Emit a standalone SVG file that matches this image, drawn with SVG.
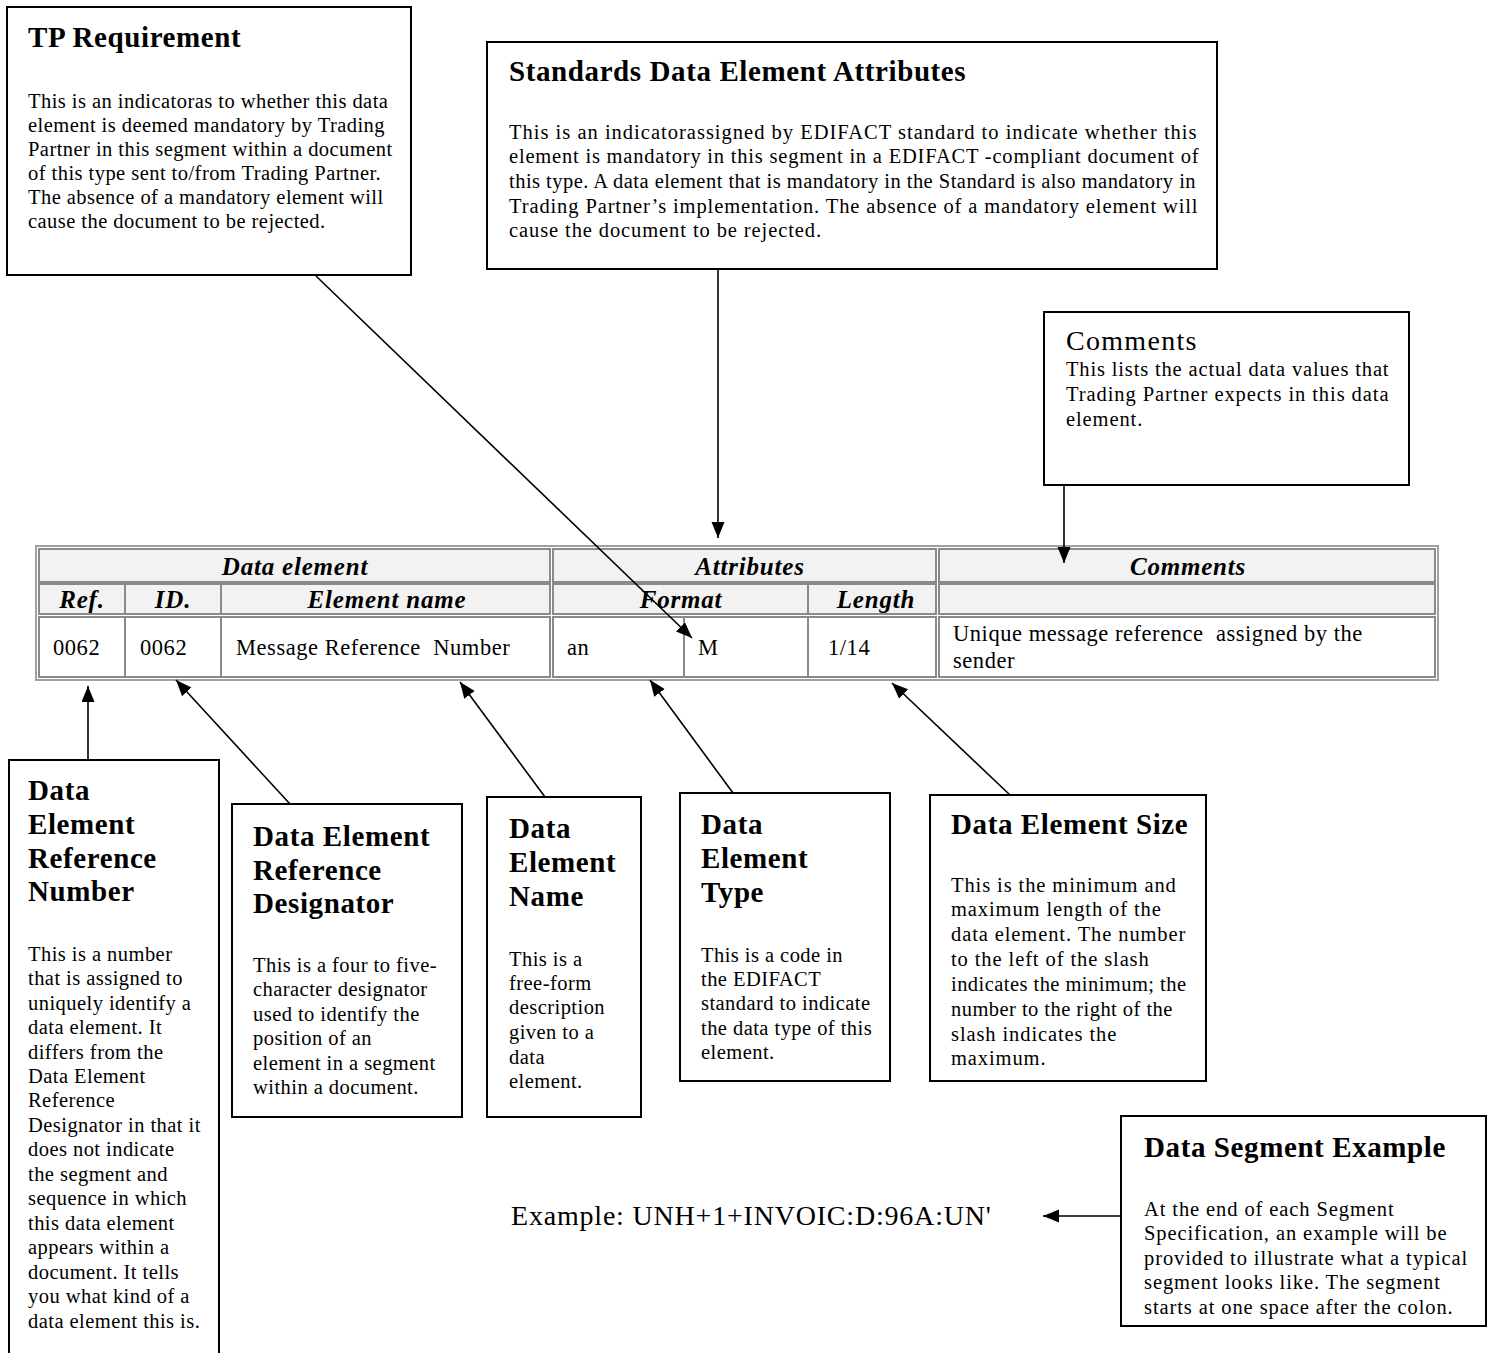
<svg xmlns="http://www.w3.org/2000/svg" width="1492" height="1353" viewBox="0 0 1492 1353">
<style>
text{font-family:"Liberation Serif","Times New Roman",serif;fill:#000}
.box{fill:#fff;stroke:#000;stroke-width:2}
.t{font-size:29px;font-weight:bold;letter-spacing:0.6px}
.b{font-size:20.5px;letter-spacing:0.45px}
.w{letter-spacing:0.9px}
.th{font-size:25px;font-weight:bold;font-style:italic;letter-spacing:0.8px}
.td{font-size:22.5px;letter-spacing:0.55px}
.cellh{fill:#f2f2f2;stroke:#8a8a8a;stroke-width:2}
.celld{fill:#fff;stroke:#8a8a8a;stroke-width:2}
.gl{stroke:#8a8a8a;stroke-width:2}
.con{stroke:#000;stroke-width:1.6;fill:none;marker-end:url(#ah)}
</style>
<defs>
<marker id="ah" markerUnits="userSpaceOnUse" markerWidth="18" markerHeight="14" refX="16" refY="6.5" orient="auto">
<path d="M0,0 L16,6.5 L0,13 z" fill="#000"/>
</marker>
</defs>
<rect width="1492" height="1353" fill="#fff"/>

<g id="tp-requirement">
<rect class="box" x="7" y="7" width="404" height="268"/>
<text class="t" x="28" y="47">TP Requirement</text>
<text class="b" x="28" y="108">This is an indicatoras to whether this data</text>
<text class="b" x="28" y="132">element is deemed mandatory by Trading</text>
<text class="b" x="28" y="156">Partner in this segment within a document</text>
<text class="b" x="28" y="180">of this type sent to/from Trading Partner.</text>
<text class="b" x="28" y="204">The absence of a mandatory element will</text>
<text class="b" x="28" y="228">cause the document to be rejected.</text>
</g>

<g id="standards-attributes">
<rect class="box" x="487" y="42" width="730" height="227"/>
<text class="t" x="509" y="81">Standards Data Element Attributes</text>
<text class="b" x="509" y="139" textLength="688" lengthAdjust="spacing">This is an indicatorassigned by EDIFACT standard to indicate whether this</text>
<text class="b" x="509" y="163" textLength="690" lengthAdjust="spacing">element is mandatory in this segment in a EDIFACT -compliant document of</text>
<text class="b" x="509" y="188" textLength="687" lengthAdjust="spacing">this type. A data element that is mandatory in the Standard is also mandatory in</text>
<text class="b" x="509" y="213" textLength="689" lengthAdjust="spacing">Trading Partner’s implementation. The absence of a mandatory element will</text>
<text class="b w" x="509" y="237">cause the document to be rejected.</text>
</g>

<g id="comments-box">
<rect class="box" x="1044" y="312" width="365" height="173"/>
<text x="1066" y="350" style="font-size:28px;letter-spacing:1.3px">Comments</text>
<text class="b" x="1066" y="376" textLength="323" lengthAdjust="spacing">This lists the actual data values that</text>
<text class="b" x="1066" y="401" textLength="323" lengthAdjust="spacing">Trading Partner expects in this data</text>
<text class="b w" x="1066" y="426">element.</text>
</g>

<g id="table">
<rect x="36" y="546" width="1402" height="134" fill="#fff" stroke="#a0a0a0" stroke-width="2"/>
<rect class="cellh" x="39" y="549" width="511" height="33"/>
<rect class="cellh" x="553" y="549" width="383" height="33"/>
<rect class="cellh" x="939" y="549" width="496" height="33"/>
<rect class="cellh" x="39" y="584" width="511" height="30"/>
<rect class="cellh" x="553" y="584" width="383" height="30"/>
<rect class="cellh" x="939" y="584" width="496" height="30"/>
<line class="gl" x1="125" y1="584" x2="125" y2="614"/>
<line class="gl" x1="221" y1="584" x2="221" y2="614"/>
<line class="gl" x1="808" y1="584" x2="808" y2="614"/>
<rect class="celld" x="39" y="617" width="511" height="60"/>
<rect class="celld" x="553" y="617" width="383" height="60"/>
<rect class="celld" x="939" y="617" width="496" height="60"/>
<line class="gl" x1="125" y1="617" x2="125" y2="677"/>
<line class="gl" x1="221" y1="617" x2="221" y2="677"/>
<line class="gl" x1="684" y1="617" x2="684" y2="677"/>
<line class="gl" x1="808" y1="617" x2="808" y2="677"/>
<text class="th" x="295" y="575" text-anchor="middle">Data element</text>
<text class="th" x="750" y="575" text-anchor="middle">Attributes</text>
<text class="th" x="1188" y="575" text-anchor="middle">Comments</text>
<text class="th" x="82" y="608" text-anchor="middle">Ref.</text>
<text class="th" x="173" y="608" text-anchor="middle">ID.</text>
<text class="th" x="387" y="608" text-anchor="middle">Element name</text>
<text class="th" x="681" y="608" text-anchor="middle">Format</text>
<text class="th" x="876" y="608" text-anchor="middle">Length</text>
<text class="td" x="53" y="655">0062</text>
<text class="td" x="140" y="655">0062</text>
<text class="td" x="236" y="655" xml:space="preserve">Message Reference  Number</text>
<text class="td" x="567" y="655">an</text>
<text class="td" x="698" y="655">M</text>
<text class="td" x="828" y="655">1/14</text>
<text class="td" x="953" y="641" xml:space="preserve">Unique message reference  assigned by the</text>
<text class="td" x="953" y="668">sender</text>
</g>

<g id="de-reference-number">
<rect class="box" x="9" y="760" width="210" height="610"/>
<text class="t" x="28" y="800">Data</text>
<text class="t" x="28" y="834">Element</text>
<text class="t" x="28" y="868">Reference</text>
<text class="t" x="28" y="901">Number</text>
<text class="b" x="28" y="961">This is a number</text>
<text class="b" x="28" y="985">that is assigned to</text>
<text class="b" x="28" y="1010">uniquely identify a</text>
<text class="b" x="28" y="1034">data element. It</text>
<text class="b" x="28" y="1059">differs from the</text>
<text class="b" x="28" y="1083">Data Element</text>
<text class="b" x="28" y="1107">Reference</text>
<text class="b" x="28" y="1132">Designator in that it</text>
<text class="b" x="28" y="1156">does not indicate</text>
<text class="b" x="28" y="1181">the segment and</text>
<text class="b" x="28" y="1205">sequence in which</text>
<text class="b" x="28" y="1230">this data element</text>
<text class="b" x="28" y="1254">appears within a</text>
<text class="b" x="28" y="1279">document. It tells</text>
<text class="b" x="28" y="1303">you what kind of a</text>
<text class="b" x="28" y="1328">data element this is.</text>
</g>

<g id="de-reference-designator">
<rect class="box" x="232" y="804" width="230" height="313"/>
<text class="t" x="253" y="846">Data Element</text>
<text class="t" x="253" y="880">Reference</text>
<text class="t" x="253" y="913">Designator</text>
<text class="b" x="253" y="972">This is a four to five-</text>
<text class="b" x="253" y="996">character designator</text>
<text class="b" x="253" y="1021">used to identify the</text>
<text class="b" x="253" y="1045">position of an</text>
<text class="b" x="253" y="1070">element in a segment</text>
<text class="b" x="253" y="1094">within a document.</text>
</g>

<g id="de-name">
<rect class="box" x="487" y="797" width="154" height="320"/>
<text class="t" x="509" y="838">Data</text>
<text class="t" x="509" y="872">Element</text>
<text class="t" x="509" y="906">Name</text>
<text class="b" x="509" y="966">This is a</text>
<text class="b" x="509" y="990">free-form</text>
<text class="b" x="509" y="1014">description</text>
<text class="b" x="509" y="1039">given to a</text>
<text class="b" x="509" y="1064">data</text>
<text class="b" x="509" y="1088">element.</text>
</g>

<g id="de-type">
<rect class="box" x="680" y="793" width="210" height="288"/>
<text class="t" x="701" y="834">Data</text>
<text class="t" x="701" y="868">Element</text>
<text class="t" x="701" y="902">Type</text>
<text class="b" x="701" y="962">This is a code in</text>
<text class="b" x="701" y="986">the EDIFACT</text>
<text class="b" x="701" y="1010">standard to indicate</text>
<text class="b" x="701" y="1035">the data type of this</text>
<text class="b" x="701" y="1059">element.</text>
</g>

<g id="de-size">
<rect class="box" x="930" y="795" width="276" height="286"/>
<text class="t" x="951" y="834">Data Element Size</text>
<text class="b w" x="951" y="892">This is the minimum and</text>
<text class="b w" x="951" y="916">maximum length of the</text>
<text class="b w" x="951" y="941">data element. The number</text>
<text class="b w" x="951" y="966">to the left of the slash</text>
<text class="b" x="951" y="991">indicates the minimum; the</text>
<text class="b" x="951" y="1016">number to the right of the</text>
<text class="b w" x="951" y="1041">slash indicates the</text>
<text class="b w" x="951" y="1065">maximum.</text>
</g>

<g id="segment-example">
<rect class="box" x="1121" y="1116" width="365" height="210"/>
<text class="t" x="1144" y="1157">Data Segment Example</text>
<text class="b w" x="1144" y="1216">At the end of each Segment</text>
<text class="b w" x="1144" y="1240">Specification, an example will be</text>
<text class="b w" x="1144" y="1265">provided to illustrate what a typical</text>
<text class="b w" x="1144" y="1289">segment looks like. The segment</text>
<text class="b w" x="1144" y="1314">starts at one space after the colon.</text>
</g>

<g id="example-line">
<text x="511" y="1225" style="font-size:28px;letter-spacing:0.8px">Example: UNH+1+INVOIC:D:96A:UN'</text>
</g>

<g id="connectors">
<line class="con" x1="316" y1="276" x2="692" y2="638"/>
<line class="con" x1="718" y1="270" x2="718" y2="538"/>
<line class="con" x1="1064" y1="486" x2="1064" y2="563"/>
<line class="con" x1="88" y1="760" x2="88" y2="686"/>
<line class="con" x1="290" y1="804" x2="176" y2="680"/>
<line class="con" x1="545" y1="797" x2="460" y2="682"/>
<line class="con" x1="733" y1="793" x2="650" y2="680"/>
<line class="con" x1="1010" y1="795" x2="892" y2="683"/>
<line class="con" x1="1121" y1="1216" x2="1043" y2="1216"/>
</g>
</svg>
